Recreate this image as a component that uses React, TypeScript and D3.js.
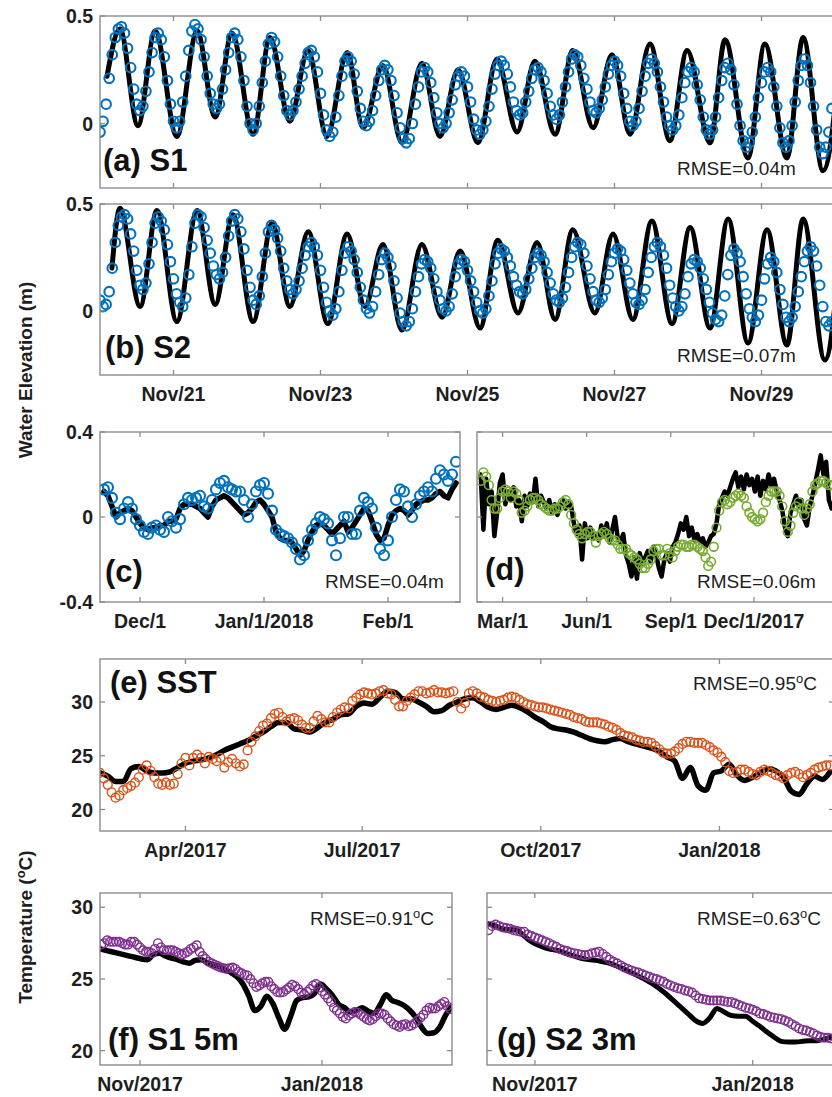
import React from 'react';
import * as d3 from 'd3';

const FONT = "'Liberation Sans', Arial, Helvetica, sans-serif";
const FRAME = '#8c8c8c';
const INK = '#1e1e1e';
const BLUE = '#0072BD';
const GREEN = '#77AC30';
const ORANGE = '#D95319';
const PURPLE = '#7E2F8E';

// ---------- (a),(b) water elevation, hourly, from Nov 20 2017 00:00 ----------
const tideStart = new Date(2017, 10, 20, 0);
// model: times (hours after tideStart) and values (cm) of successive highs / lows
const s1ModelHours = [2.3, 6.5, 12.4, 18.0, 25.1, 31.7, 37.6, 43.1, 50.0, 55.5, 62.0, 67.9, 74.1, 80.7, 85.9, 92.4, 98.6, 105.1, 111.0, 116.9, 123.4, 129.6, 136.2, 142.0, 148.6, 154.4, 161.0, 167.2, 173.1, 179.6, 186.1, 191.7, 199.2, 204.1, 211.6, 217.1, 224.3, 229.6, 236.1, 242.3];
const s1ModelCm = [22, 44, -1, 43, -6, 43, 3, 42, -5, 40, 1, 34, -6, 33, -2, 27, -9, 28, -6, 25, -9, 30, -4, 29, -5, 34, -2, 32, -5, 37, -8, 34, -9, 39, -16, 37, -16, 40, -22, 40];
// observed S1, hourly (cm)
const s1ObsCm = [
  -4, 1, 9, 21, 32, 40, 44, 45, 42, 35, 26, 16, 9, 6, 8, 15, 24, 33, 40, 42,
  39, 31, 20, 9, 1, -2, 1, 10, 22, 34, 43, 46, 44, 39, 31, 22, 14, 9, 7, 9,
  16, 25, 33, 40, 42, 39, 31, 20, 8, 0, -3, 0, 8, 19, 29, 37, 40, 38, 31, 22,
  13, 6, 4, 6, 10, 16, 22, 28, 33, 34, 31, 24, 14, 4, -3, -6, -4, 3, 13, 22,
  29, 31, 29, 23, 15, 7, 1, -1, 1, 6, 13, 20, 25, 27, 25, 20, 13, 5, -2, -7,
  -9, -7, 0, 9, 17, 24, 26, 24, 19, 12, 5, 0, -2, 0, 5, 11, 18, 22, 24, 22,
  17, 10, 2, -3, -5, -3, 1, 8, 16, 23, 27, 29, 27, 23, 17, 10, 6, 4, 5, 10,
  15, 21, 25, 26, 24, 20, 14, 8, 4, 2, 4, 10, 17, 24, 30, 32, 31, 27, 21, 16,
  10, 6, 5, 7, 11, 17, 23, 27, 29, 27, 22, 14, 7, 1, -1, 1, 7, 15, 22, 28,
  30, 28, 24, 17, 10, 3, -1, -3, -1, 4, 12, 19, 24, 26, 24, 18, 11, 3, -3, -5,
  -3, 3, 12, 20, 26, 28, 25, 18, 9, -1, -8, -11, -9, -4, 3, 12, 19, 24, 26, 24,
  17, 8, -2, -9, -11, -8, -1, 10, 20, 27, 30, 27, 19, 8, -3, -11, -14, -11, -4, 7,
];
const s2ModelHours = [3.9, 6.5, 13.1, 18.6, 25.1, 31.7, 37.6, 43.4, 50.0, 56.2, 62.0, 68.0, 74.4, 80.7, 86.5, 92.4, 98.6, 105.1, 111.7, 117.6, 124.1, 129.9, 136.5, 142.7, 148.6, 154.4, 161.6, 167.5, 174.0, 180.2, 186.8, 192.7, 199.2, 205.1, 211.6, 217.8, 224.3, 229.6, 236.7, 242.5];
const s2ModelCm = [20, 48, 2, 47, -5, 47, 3, 45, -5, 41, 2, 37, -6, 36, 2, 31, -9, 31, -3, 28, -8, 33, -1, 32, -4, 38, -1, 36, -4, 42, -6, 39, -8, 43, -15, 38, -16, 43, -23, 43];
// observed S2, hourly (cm)
const s2ObsCm = [
  5, 2, 3, 9, 20, 32, 40, 44, 45, 43, 36, 28, 19, 12, 10, 13, 22, 32, 41, 44,
  42, 38, 31, 23, 15, 8, 4, 2, 6, 17, 30, 41, 45, 44, 39, 33, 27, 21, 17, 15,
  18, 25, 35, 42, 45, 43, 37, 29, 19, 11, 5, 3, 7, 16, 27, 37, 40, 38, 34, 28,
  20, 14, 10, 8, 10, 14, 20, 26, 30, 32, 30, 26, 19, 11, 4, 0, -2, 1, 9, 19,
  27, 30, 28, 24, 18, 11, 5, 1, -1, 2, 9, 17, 24, 27, 25, 21, 14, 6, -1, -5,
  -7, -5, 1, 9, 16, 22, 24, 23, 20, 15, 9, 5, 1, 0, 2, 8, 16, 22, 24, 23,
  19, 14, 9, 4, 0, -1, 1, 7, 14, 22, 27, 29, 28, 25, 21, 16, 12, 9, 8, 10,
  15, 20, 25, 27, 26, 23, 18, 13, 8, 5, 4, 6, 11, 18, 25, 30, 32, 31, 27, 21,
  15, 9, 5, 4, 6, 10, 17, 23, 27, 29, 28, 24, 19, 13, 8, 4, 3, 5, 10, 18,
  25, 30, 32, 30, 26, 20, 12, 6, 2, 0, 2, 8, 16, 22, 24, 23, 20, 15, 10, 4,
  -1, -4, -5, -2, 7, 17, 26, 29, 27, 23, 16, 8, 1, -3, -5, -2, 5, 15, 22, 25,
  23, 18, 10, 3, -3, -5, -3, 2, 9, 16, 23, 28, 30, 28, 21, 12, 2, -5, -7, -5,
];
const tideTicks = [new Date(2017, 10, 21), new Date(2017, 10, 23), new Date(2017, 10, 25), new Date(2017, 10, 27), new Date(2017, 10, 29)];
const tideTickLabels = ['Nov/21', 'Nov/23', 'Nov/25', 'Nov/27', 'Nov/29'];

// ---------- (c) daily, from Nov 22 2017 (cm) ----------
const cStart = new Date(2017, 10, 22);
const cObsCm = [
  13, 14, 9, 2, -1, 4, 7, 4, -1,
  -4, -7, -8, -5, -4, -6, -7, 0, -2, -5, -1, 6, 9, 8, 9, 10, 5, 4, 8, 13, 16, 17, 14, 13, 12, 12, 8, 0, 6, 12, 15,
  16, 11, 3, -6, -8, -9, -10, -12, -15, -20, -18, -11, -6, -3, 0, -1, -3, -11, -18, -10, 0, 0, -8, -8, 3, 9, 7, 4, -5, -15, -18,
  -11, 0, 8, 13, 12, 5, 0, 6, 10, 12, 14, 12, 18, 22, 20, 17, 20, 26,
];
const cModelCm = [
  12, 10, 5, 0, 2, 3, 4, 3, 0,
  -3, -5, -6, -5, -5, -4, -4, -2, -2, -1, 4, 6, 6, 6, 5, 4, 2, 0, 5, 8, 9, 10, 9, 7, 5, 3, 1, 2, 4, 7, 8,
  6, 3, 0, -7, -10, -11, -11, -12, -15, -18, -16, -11, -7, -4, -3, -4, -6, -8, -6, -4, -2, -7, -5, -2, 1, 4, 3, -2, -8, -11, -10,
  -4, 1, 3, 4, 3, 1, 3, 6, 7, 8, 8, 9, 11, 12, 10, 9, 13, 16,
];
const cTicks = [new Date(2017, 11, 1), new Date(2018, 0, 1), new Date(2018, 1, 1)];
const cTickLabels = ['Dec/1', 'Jan/1/2018', 'Feb/1'];

// ---------- (d) every 3 days from Feb 5 2017 (cm) ----------
const dStart = new Date(2017, 1, 5);
const dObsCm = [
  17, 21, 19, 15, 8, 4, 4, 9, 12, 13, 12, 9, 12, 11, 8, 2, 3, 5, 8, 9,
  9, 8, 6, 5, 4, 3, 3, 4, 4, 5, 7, 8, 6, 1, -3, -6, -8, -10, -8, -7,
  -7, -9, -12, -9, -8, -7, -8, -10, -11, -11, -13, -15, -15, -15, -17, -18, -19, -20, -22, -24,
  -24, -22, -20, -16, -15, -15, -18, -18, -15, -17, -19, -16, -14, -13, -13, -14, -14, -13, -13, -14,
  -15, -16, -19, -23, -21, -14, -5, 3, 7, 8, 6, 7, 9, 10, 11, 10, 9, 5, 2, 0,
  -1, -2, -1, 2, 7, 10, 12, 12, 12, 10, 5, -2, -7, -4, 2, 5, 7, 4, 1, 4,
  6, 12, 15, 16, 17, 17, 16, 15, 15,
];
const dModelCm = [
  20, -6, 18, 6, 12, -9, 2, 16, 20, 6, 12, 8, 14, 5, 8, -2, 10, 5, 11, 7,
  18, 5, 10, 7, 4, 8, 2, 6, 1, 5, 8, 4, 7, 5, -3, -8, -4, -20, -3, -10,
  -5, -10, -8, -11, -4, -9, -3, -12, -6, 0, -10, -12, -8, -18, -22, -28, -19, -29, -17, -22,
  -19, -16, -21, -14, -18, -24, -28, -20, -17, -21, -14, -12, -8, -3, -6, 0, -9, -5, -11, -8,
  -12, -10, -14, -12, -9, -8, -3, 6, 9, 12, 10, 14, 18, 21, 14, 19, 13, 20, 15, 18,
  12, 19, 10, 17, 13, 20, 15, 18, 12, 8, 3, -5, -9, 2, 6, 10, 5, 8, -1, -4,
  5, 10, 16, 22, 29, 20, 26, 8, 4,
];
const dTicks = [new Date(2017, 2, 1), new Date(2017, 5, 1), new Date(2017, 8, 1), new Date(2017, 11, 1)];
const dTickLabels = ['Mar/1', 'Jun/1', 'Sep/1', 'Dec/1/2017'];

// ---------- (e) SST (°C) from Feb 16 2017 ----------
const eStart = new Date(2017, 1, 16);
const eObs = [ // every 2 days
  23.4, 22.9, 22.3, 21.6, 21.1, 21.3, 21.8, 22.0, 22.2, 22.5, 23.0, 23.7, 24.1, 23.6, 23.0, 22.4, 22.3, 22.5, 22.3, 22.4,
  23.3, 24.3, 24.8, 24.1, 24.8, 25.1, 24.8, 24.3, 24.9, 24.7, 24.5, 24.8, 23.9, 24.4, 24.7, 24.3, 24.0, 24.2, 25.5, 26.3,
  26.8, 27.3, 27.8, 28.0, 28.5, 28.9, 29.0, 28.6, 28.2, 28.4, 28.5, 28.3, 27.9, 27.6, 27.6, 28.2, 28.7, 28.4, 28.1, 28.1,
  28.6, 29.0, 29.3, 29.5, 29.4, 30.1, 30.4, 30.7, 30.9, 30.8, 30.7, 30.8, 31.0, 31.1, 30.8, 30.7, 30.2, 29.6, 29.6, 30.1,
  30.4, 30.7, 31.0, 31.0, 30.8, 30.9, 31.1, 30.9, 30.9, 30.8, 30.9, 31.0, 30.0, 29.4, 29.9, 30.8, 31.0, 30.8, 30.5, 30.4,
  30.2, 30.1, 30.0, 30.1, 30.2, 30.4, 30.5, 30.4, 30.2, 30.0, 29.8, 29.7, 29.6, 29.5, 29.5, 29.4, 29.3, 29.2, 29.1, 29.0,
  28.9, 28.8, 28.6, 28.5, 28.4, 28.2, 28.1, 28.1, 28.1, 28.0, 27.9, 27.7, 27.6, 27.4, 27.1, 26.9, 26.8, 26.7, 26.5, 26.4,
  26.3, 26.3, 26.2, 25.9, 25.6, 25.3, 25.2, 25.2, 25.4, 25.7, 26.1, 26.3, 26.3, 26.2, 26.2, 26.2, 26.0, 25.8, 25.5, 25.3,
  24.9, 24.4, 23.6, 23.4, 23.5, 23.7, 23.7, 23.5, 23.3, 23.2, 23.5, 23.7, 23.6, 23.4, 23.2, 23.1, 22.9, 23.2, 23.4, 23.5,
  23.3, 23.0, 23.2, 23.4, 23.7, 23.9, 24.0, 24.1, 24.1,
];
const eModel = [ // every 4 days
  23.4, 23.1, 22.6, 22.6, 23.8, 24.0, 23.6, 23.4, 23.4, 23.5, 23.9, 24.3, 24.5, 24.6, 24.8, 25.1, 25.5, 25.8, 26.1, 26.4,
  26.8, 27.2, 27.7, 28.1, 28.1, 27.5, 27.4, 27.2, 27.6, 28.1, 28.4, 28.8, 28.9, 29.6, 29.9, 29.8, 30.4, 31.0, 30.9, 30.3,
  30.3, 30.0, 29.6, 29.1, 29.2, 29.7, 30.0, 30.3, 30.4, 30.0, 29.5, 29.3, 29.5, 29.7, 29.5, 29.1, 28.6, 28.2, 27.7, 27.5,
  27.4, 27.2, 26.9, 26.6, 26.4, 26.3, 26.5, 26.6, 26.3, 26.1, 25.9, 25.7, 25.4, 24.9, 24.5, 22.9, 23.9, 22.2, 21.8, 23.4,
  23.6, 24.2, 23.2, 22.7, 23.0, 23.4, 23.8, 23.6, 23.0, 21.7, 21.4, 22.4, 23.1, 22.8, 23.5,
];
const eTicks = [new Date(2017, 3, 1), new Date(2017, 6, 1), new Date(2017, 9, 1), new Date(2018, 0, 1)];
const eTickLabels = ['Apr/2017', 'Jul/2017', 'Oct/2017', 'Jan/2018'];

// ---------- (f) S1 5m (°C) ----------
const fObsStart = new Date(2017, 9, 19);
const fObs = [ // daily
  27.4, 27.5, 27.7, 27.6, 27.6, 27.6, 27.6, 27.5, 27.4, 27.4, 27.6, 27.6, 27.4, 27.2, 27.0, 26.9, 26.9, 26.8, 27.1, 27.5,
  27.2, 27.0, 27.0, 27.0, 27.0, 26.9, 26.8, 26.7, 26.8, 26.9, 27.1, 27.2, 27.35, 26.9, 26.6, 26.4, 26.2, 26.1, 26.0, 25.9,
  25.8, 25.75, 25.7, 25.75, 25.8, 25.7, 25.5, 25.4, 25.3, 25.25, 25.0, 24.7, 24.45, 24.55, 24.7, 24.8, 24.8, 24.5, 24.3, 24.1,
  24.05, 24.1, 24.25, 24.4, 24.6, 24.5, 24.3, 24.05, 23.95, 24.1, 24.3, 24.55, 24.65, 24.4, 24.15, 23.9, 23.65, 23.4, 23.0, 22.8,
  22.6, 22.35, 22.25, 22.45, 22.6, 22.7, 22.65, 22.5, 22.35, 22.2, 22.1, 22.2, 22.4, 22.6, 22.6, 22.5, 22.25, 22.05, 21.85, 21.75,
  21.65, 21.8, 21.85, 21.7, 21.75, 21.9, 22.1, 22.3, 22.5, 22.8, 23.0, 22.95, 22.95, 23.1, 23.25, 23.4, 23.1, 22.9,
];
const fModelStart = new Date(2017, 9, 18, 12);
const fModel = [ // every 2 days
  27.1, 27.0, 26.9, 26.8, 26.7, 26.6, 26.5, 26.4, 26.35, 26.7, 26.8, 26.6, 26.45, 26.35, 26.2, 26.1, 26.3, 26.35, 26.15, 26.0,
  25.85, 25.65, 25.45, 25.15, 24.65, 23.8, 22.8, 23.1, 23.8, 23.3, 22.3, 21.5, 22.4, 23.5, 23.7, 23.75, 24.0, 24.65, 24.3, 23.85,
  23.25, 23.0, 22.7, 22.8, 23.0, 22.75, 22.6, 23.2, 23.9, 23.5, 23.35, 23.15, 22.8, 22.3, 21.6, 21.2, 21.25, 21.65, 22.5, 23.1,
];

// ---------- (g) S2 3m (°C) ----------
const gStart = new Date(2017, 9, 19);
const gObs = [ // daily
  28.4, 28.7, 28.8, 28.7, 28.6, 28.55, 28.5, 28.4, 28.35, 28.3, 28.3, 28.1, 28.0, 27.9, 27.8, 27.7, 27.6, 27.5, 27.35, 27.25,
  27.1, 27.0, 26.95, 26.85, 26.8, 26.75, 26.7, 26.65, 26.7, 26.8, 26.85, 26.9, 26.75, 26.55, 26.35, 26.2, 26.1, 25.95, 25.8, 25.7,
  25.6, 25.5, 25.45, 25.35, 25.25, 25.15, 25.05, 25.0, 24.9, 24.8, 24.65, 24.55, 24.45, 24.35, 24.3, 24.2, 24.15, 24.05, 23.85, 23.65,
  23.6, 23.55, 23.5, 23.5, 23.5, 23.5, 23.45, 23.4, 23.4, 23.3, 23.2, 23.1, 23.0, 22.95, 22.85, 22.75, 22.6, 22.55, 22.45, 22.35,
  22.3, 22.25, 22.2, 22.1, 22.0, 21.85, 21.7, 21.55, 21.45, 21.4, 21.3, 21.2, 21.05, 20.95, 20.9, 20.9, 20.85,
];
const gModel = [ // every 2 days
  28.85, 28.7, 28.5, 28.45, 28.4, 28.0, 27.6, 27.35, 27.15, 27.05, 26.95, 26.75, 26.6, 26.45, 26.35, 26.3, 26.2, 26.1, 25.9, 25.7,
  25.45, 25.2, 24.95, 24.65, 24.3, 23.9, 23.45, 23.0, 22.55, 22.1, 21.9, 22.3, 22.95, 22.7, 22.45, 22.4, 22.4, 22.05, 21.7, 21.3,
  20.95, 20.65, 20.6, 20.6, 20.65, 20.7, 20.7, 20.8, 20.95,
];
const tempTicks = [new Date(2017, 10, 1), new Date(2018, 0, 1)];
const tempTickLabels = ['Nov/2017', 'Jan/2018'];

// ---------- helpers ----------
type Pt = { t: Date; v: number };
const HOUR = 3600e3;
const DAY = 24 * HOUR;
function stepped(start: Date, stepMs: number, vals: number[], scale = 1): Pt[] {
  return vals.map((v, i) => ({ t: new Date(start.getTime() + i * stepMs), v: v * scale }));
}
function atHours(start: Date, hours: number[], vals: number[], scale = 1): Pt[] {
  return vals.map((v, i) => ({ t: new Date(start.getTime() + hours[i] * HOUR), v: v * scale }));
}

type XS = d3.ScaleTime<number, number>;
type YS = d3.ScaleLinear<number, number>;

function Line({ pts, xs, ys, w, curve }: { pts: Pt[]; xs: XS; ys: YS; w: number; curve?: d3.CurveFactory }) {
  const gen = d3.line<Pt>().x((p) => xs(p.t)).y((p) => ys(p.v)).curve(curve ?? d3.curveLinear);
  return <path d={gen(pts) ?? ''} fill="none" stroke="#000" strokeWidth={w} strokeLinejoin="round" strokeLinecap="round" />;
}

function Dots({ pts, xs, ys, color, r, sw }: { pts: Pt[]; xs: XS; ys: YS; color: string; r: number; sw: number }) {
  return (
    <g fill="none" stroke={color} strokeWidth={sw}>
      {pts.map((p, i) => (
        <circle key={i} cx={xs(p.t)} cy={ys(p.v)} r={r} />
      ))}
    </g>
  );
}

function Panel(props: {
  id: string; xs: XS; ys: YS; xTicks: Date[]; xLabels?: string[]; yTicks: number[]; yLabels?: string[];
  children?: React.ReactNode;
}) {
  const { id, xs, ys, xTicks, xLabels, yTicks, yLabels, children } = props;
  const [x0, x1] = xs.range();
  const [yb, yt] = ys.range();
  const TL = 5;
  return (
    <g>
      <defs>
        <clipPath id={`clip-${id}`}>
          <rect x={x0} y={yt} width={x1 - x0} height={yb - yt} />
        </clipPath>
      </defs>
      <g clipPath={`url(#clip-${id})`}>{children}</g>
      <rect x={x0} y={yt} width={x1 - x0} height={yb - yt} fill="none" stroke={FRAME} strokeWidth={1.4} />
      <g stroke={FRAME} strokeWidth={1.3}>
        {xTicks.map((t, i) => {
          const px = xs(t);
          return (
            <g key={i}>
              <line x1={px} x2={px} y1={yb} y2={yb - TL} />
              <line x1={px} x2={px} y1={yt} y2={yt + TL} />
            </g>
          );
        })}
        {yTicks.map((v, i) => {
          const py = ys(v);
          return (
            <g key={i}>
              <line x1={x0} x2={x0 + TL} y1={py} y2={py} />
              <line x1={x1} x2={x1 - TL} y1={py} y2={py} />
            </g>
          );
        })}
      </g>
      <g fontFamily={FONT} fontWeight="bold" fontSize={19.5} fill={INK}>
        {xLabels &&
          xTicks.map((t, i) => (
            <text key={i} x={xs(t)} y={yb + 26} textAnchor="middle">
              {xLabels[i]}
            </text>
          ))}
        {yLabels &&
          yTicks.map((v, i) => (
            <text key={i} x={x0 - 7} y={ys(v)} dy="0.36em" textAnchor="end">
              {yLabels[i]}
            </text>
          ))}
      </g>
    </g>
  );
}

function Tag({ x, y, children }: { x: number; y: number; children: React.ReactNode }) {
  return (
    <text x={x} y={y} fontFamily={FONT} fontWeight="bold" fontSize={31} fill="#111">
      {children}
    </text>
  );
}

function Rmse({ x, y, value, deg }: { x: number; y: number; value: string; deg?: boolean }) {
  return (
    <text x={x} y={y} fontFamily={FONT} fontSize={19} fill={INK}>
      {`RMSE=${value}`}
      {deg ? (
        <>
          <tspan dy={-7} fontSize={13}>o</tspan>
          <tspan dy={7}>C</tspan>
        </>
      ) : (
        'm'
      )}
    </text>
  );
}

export default function App() {
  // scales
  const xAB = d3.scaleTime().domain([new Date(2017, 10, 20), new Date(2017, 11, 1)]).range([100, 908.5]);
  const yA = d3.scaleLinear().domain([-0.3, 0.5]).range([188, 16]);
  const yB = d3.scaleLinear().domain([-0.3, 0.5]).range([375, 204]);
  const xC = d3.scaleTime().domain([new Date(2017, 10, 21), new Date(2018, 1, 19)]).range([100, 460]);
  const yCD = d3.scaleLinear().domain([-0.4, 0.4]).range([602, 432]);
  const xD = d3.scaleTime().domain([new Date(2017, 1, 1), new Date(2018, 2, 15)]).range([477, 849]);
  const xE = d3.scaleTime().domain([new Date(2017, 1, 16), new Date(2018, 2, 1)]).range([100, 834]);
  const yE = d3.scaleLinear().domain([18, 34]).range([831, 659]);
  const xF = d3.scaleTime().domain([new Date(2017, 9, 18, 14), new Date(2018, 1, 13, 14)]).range([100, 452]);
  const yFG = d3.scaleLinear().domain([19, 31]).range([1065, 893]);
  const xG = d3.scaleTime().domain([new Date(2017, 9, 18, 14), new Date(2018, 0, 25, 4)]).range([487, 839]);

  // series
  const s1Model = atHours(tideStart, s1ModelHours, s1ModelCm, 0.01);
  const s1Obs = stepped(tideStart, HOUR, s1ObsCm, 0.01);
  const s2Model = atHours(tideStart, s2ModelHours, s2ModelCm, 0.01);
  const s2Obs = stepped(tideStart, HOUR, s2ObsCm, 0.01);
  const cObs = stepped(cStart, DAY, cObsCm, 0.01);
  const cModel = stepped(cStart, DAY, cModelCm, 0.01);
  const dObs = stepped(dStart, 3 * DAY, dObsCm, 0.01);
  const dModel = stepped(dStart, 3 * DAY, dModelCm, 0.01);
  const eO = stepped(eStart, 2 * DAY, eObs);
  const eM = stepped(eStart, 4 * DAY, eModel);
  const fO = stepped(fObsStart, DAY, fObs);
  const fM = stepped(fModelStart, 2 * DAY, fModel);
  const gO = stepped(gStart, DAY, gObs);
  const gM = stepped(gStart, 2 * DAY, gModel);

  return (
    <svg
      width={832}
      height={1097}
      viewBox="0 0 832 1097"
      style={{ position: 'absolute', left: 0, top: 0, background: '#fff', display: 'block' }}
    >
      <rect x={0} y={0} width={832} height={1097} fill="#fff" />

      {/* (a) */}
      <Panel id="a" xs={xAB} ys={yA} xTicks={tideTicks} yTicks={[0, 0.5]} yLabels={['0', '0.5']}>
        <Line pts={s1Model} xs={xAB} ys={yA} w={5} curve={d3.curveMonotoneX} />
        <Dots pts={s1Obs} xs={xAB} ys={yA} color={BLUE} r={4.8} sw={2.1} />
      </Panel>
      <Tag x={103} y={171}>(a) S1</Tag>
      <Rmse x={677} y={175} value="0.04" />

      {/* (b) */}
      <Panel id="b" xs={xAB} ys={yB} xTicks={tideTicks} xLabels={tideTickLabels} yTicks={[0, 0.5]} yLabels={['0', '0.5']}>
        <Line pts={s2Model} xs={xAB} ys={yB} w={5} curve={d3.curveMonotoneX} />
        <Dots pts={s2Obs} xs={xAB} ys={yB} color={BLUE} r={4.8} sw={2.1} />
      </Panel>
      <Tag x={105} y={358}>(b) S2</Tag>
      <Rmse x={677} y={362} value="0.07" />

      {/* (c) */}
      <Panel id="c" xs={xC} ys={yCD} xTicks={cTicks} xLabels={cTickLabels} yTicks={[-0.4, 0, 0.4]} yLabels={['-0.4', '0', '0.4']}>
        <Line pts={cModel} xs={xC} ys={yCD} w={5.5} />
        <Dots pts={cObs} xs={xC} ys={yCD} color={BLUE} r={5} sw={2.1} />
      </Panel>
      <Tag x={105} y={582}>(c)</Tag>
      <Rmse x={325} y={588} value="0.04" />

      {/* (d) */}
      <Panel id="d" xs={xD} ys={yCD} xTicks={dTicks} xLabels={dTickLabels} yTicks={[-0.4, 0, 0.4]}>
        <Line pts={dModel} xs={xD} ys={yCD} w={4.5} />
        <Dots pts={dObs} xs={xD} ys={yCD} color={GREEN} r={4.4} sw={1.6} />
      </Panel>
      <Tag x={485} y={580}>(d)</Tag>
      <Rmse x={697} y={588} value="0.06" />

      {/* (e) */}
      <Panel id="e" xs={xE} ys={yE} xTicks={eTicks} xLabels={eTickLabels} yTicks={[20, 25, 30]} yLabels={['20', '25', '30']}>
        <Line pts={eM} xs={xE} ys={yE} w={5.5} curve={d3.curveMonotoneX} />
        <Dots pts={eO} xs={xE} ys={yE} color={ORANGE} r={4.4} sw={1.4} />
      </Panel>
      <Tag x={110} y={693}>(e) SST</Tag>
      <Rmse x={693} y={690} value="0.95" deg />

      {/* (f) */}
      <Panel id="f" xs={xF} ys={yFG} xTicks={tempTicks} xLabels={tempTickLabels} yTicks={[20, 25, 30]} yLabels={['20', '25', '30']}>
        <Line pts={fM} xs={xF} ys={yFG} w={5.5} curve={d3.curveMonotoneX} />
        <Dots pts={fO} xs={xF} ys={yFG} color={PURPLE} r={4.3} sw={1.4} />
      </Panel>
      <Tag x={108} y={1050}>(f) S1 5m</Tag>
      <Rmse x={310} y={925} value="0.91" deg />

      {/* (g) */}
      <Panel id="g" xs={xG} ys={yFG} xTicks={tempTicks} xLabels={tempTickLabels} yTicks={[20, 25, 30]}>
        <Line pts={gM} xs={xG} ys={yFG} w={5} curve={d3.curveMonotoneX} />
        <Dots pts={gO} xs={xG} ys={yFG} color={PURPLE} r={4.3} sw={1.4} />
      </Panel>
      <Tag x={497} y={1050}>(g) S2 3m</Tag>
      <Rmse x={697} y={925} value="0.63" deg />

      {/* axis titles */}
      <text transform="translate(32,370) rotate(-90)" textAnchor="middle" fontFamily={FONT} fontWeight="bold" fontSize={19} fill={INK}>
        Water Elevation (m)
      </text>
      <text transform="translate(32,927) rotate(-90)" textAnchor="middle" fontFamily={FONT} fontWeight="bold" fontSize={19} fill={INK}>
        Temperature (<tspan dy={-7} fontSize={13}>o</tspan>
        <tspan dy={7}>C)</tspan>
      </text>
    </svg>
  );
}
